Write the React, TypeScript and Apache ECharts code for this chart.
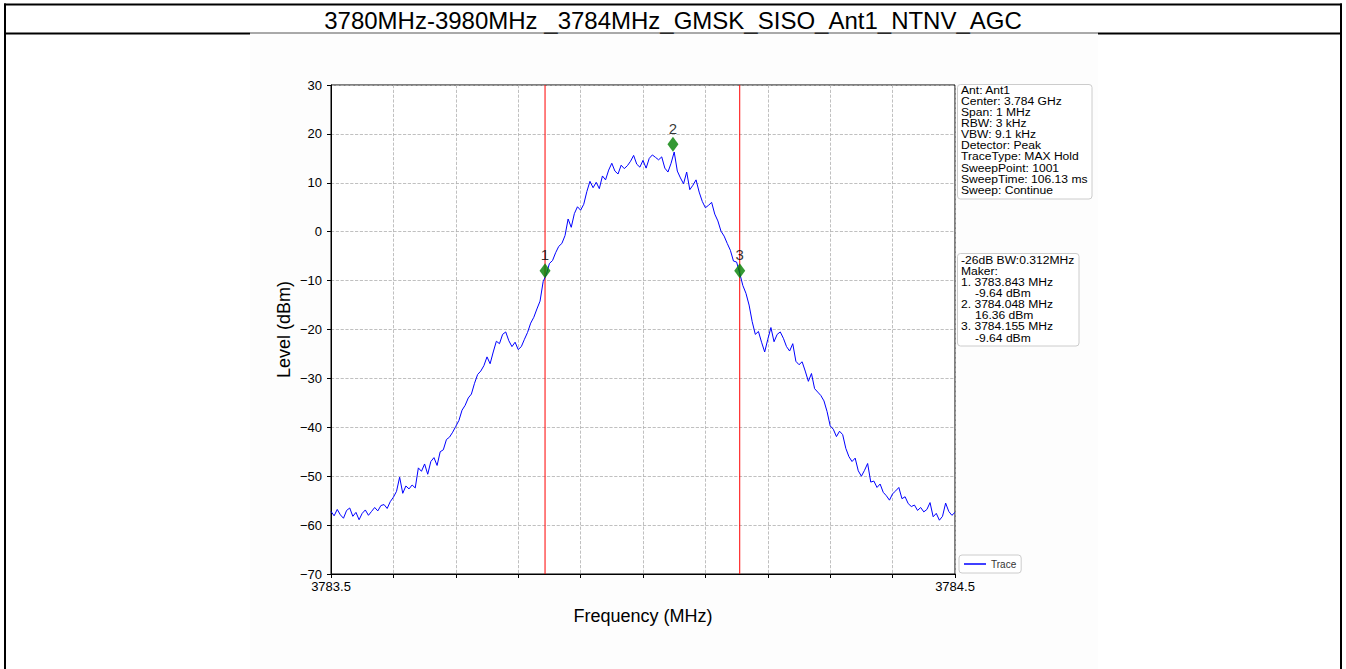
import React, { useEffect, useRef } from "react";
import * as echarts from "echarts";

const TITLE = "3780MHz-3980MHz _3784MHz_GMSK_SISO_Ant1_NTNV_AGC";
const X_NAME = "Frequency (MHz)";
const Y_NAME = "Level (dBm)";
const START_FREQ = 3783.5;
const STOP_FREQ = 3784.5;
const FREQ_STEP = 0.005;

const LEVELS = [
  -57.2, -58.1, -56.8, -57.9, -58.6, -57.0, -56.5, -58.2, -57.4, -58.9,
  -57.6, -56.9, -58.0, -57.2, -56.4, -57.1, -56.0, -55.8, -56.6, -55.2,
  -54.3, -53.1, -50.2, -53.5, -52.0, -52.6, -51.8, -52.4, -48.3, -49.0,
  -47.5, -49.6, -47.0, -46.2, -47.8, -45.0, -44.6, -42.5, -42.0, -41.0,
  -39.8, -38.6, -36.5, -35.5, -34.0, -33.2, -31.0, -29.2, -28.5, -27.4,
  -25.6, -27.0, -24.6, -22.4, -22.9, -21.0, -20.5, -22.3, -23.5, -22.6,
  -24.1, -23.5, -22.0, -20.6, -18.7, -17.5, -15.8, -14.2, -10.2, -8.8,
  -6.5, -5.9, -4.3, -3.0, -2.4, -0.8, 2.6, 0.9, 3.7, 5.1,
  4.4, 5.6, 8.2, 10.3, 9.0, 10.1, 8.8, 11.4, 10.6, 12.6,
  14.0, 12.4, 11.8, 13.6, 12.9, 13.5, 14.4, 15.6, 13.8, 13.2,
  14.6, 13.0, 15.0, 15.7, 15.2, 14.7, 15.3, 13.0, 12.2, 14.0,
  16.3, 12.4, 11.0, 9.8, 12.2, 8.6, 9.5, 10.6, 8.1, 6.2,
  4.9, 5.4, 6.0, 3.6, 2.2, 0.1, -0.9, -2.4, -3.8, -6.0,
  -6.2, -8.5, -11.0, -12.6, -15.0, -18.4, -21.0, -20.4, -22.6, -24.6,
  -22.0, -19.6, -22.5, -21.0, -20.5, -21.8, -23.5, -24.4, -22.9, -26.5,
  -27.2, -26.6, -28.5, -30.6, -29.0, -32.1, -32.8, -33.5, -34.6, -36.8,
  -39.7, -40.4, -41.9, -40.8, -41.5, -44.3, -46.0, -47.0, -46.3, -48.9,
  -50.0, -48.8, -47.4, -51.2, -51.0, -52.3, -51.6, -53.3, -54.0, -54.9,
  -53.6, -53.0, -52.3, -54.6, -54.2, -55.6, -56.2, -55.9, -57.0, -56.4,
  -57.3, -56.8, -55.4, -58.3, -57.6, -59.0, -58.2, -55.5, -57.2, -58.0, -57.4,
];

const X_TICK_LABELS = ["3783.5", "3784.5"];
const Y_MIN = -70;
const Y_MAX = 30;
const Y_STEP = 10;

const MARKER_NAMES = ["1", "2", "3"];
const MARKER_FREQS = [3783.843, 3784.048, 3784.155];
const MARKER_LEVELS = [-8.0, 17.9, -8.0];
const BW_LINE_FREQS = [3783.843, 3784.155];

const INFO_LINES = [
  "Ant: Ant1",
  "Center: 3.784 GHz",
  "Span: 1 MHz",
  "RBW: 3 kHz",
  "VBW: 9.1 kHz",
  "Detector: Peak",
  "TraceType: MAX Hold",
  "SweepPoint: 1001",
  "SweepTime: 106.13 ms",
  "Sweep: Continue",
];

const MARKER_INFO_LINES = [
  "-26dB BW:0.312MHz",
  "Maker:",
  "1. 3783.843 MHz",
  "-9.64 dBm",
  "2. 3784.048 MHz",
  "16.36 dBm",
  "3. 3784.155 MHz",
  "-9.64 dBm",
];

const FONT = "'Liberation Sans', Arial, Helvetica, sans-serif";

export default function App() {
  const ref = useRef<HTMLDivElement>(null);

  useEffect(() => {
    document.body.style.margin = "0";
    const chart = echarts.init(ref.current!, null, { renderer: "svg" });

    const traceData = LEVELS.map((v, i) => [START_FREQ + i * FREQ_STEP, v]);
    const markerData = MARKER_FREQS.map((f, i) => ({
      name: MARKER_NAMES[i],
      value: [f, MARKER_LEVELS[i]],
    }));

    const pitch = 11.1;
    const makeText = (t: string, x: number, y: number) => ({
      type: "text",
      x,
      y,
      z: 20,
      scaleX: 1.1,
      style: {
        text: t,
        font: `11px ${FONT}`,
        fill: "#000",
        textVerticalAlign: "middle",
        lineHeight: pitch,
      },
    });
    const infoTexts = INFO_LINES.map((t, i) => makeText(t, 961, 90 + i * pitch));
    const markerTexts = MARKER_INFO_LINES.map((t, i) =>
      makeText(t, t.endsWith("dBm") ? 975 : 961, 260 + i * pitch)
    );

    const near = (a: number, b: number) => Math.abs(a - b) < 1e-6;

    const bwSeries = BW_LINE_FREQS.map((f, i) => ({
      name: "BW" + (i + 1),
      type: "line",
      data: [
        [f, Y_MIN],
        [f, Y_MAX],
      ],
      showSymbol: false,
      symbol: "none",
      color: "#ff0000",
      lineStyle: { color: "#ff0000", width: 1 },
      emphasis: { disabled: true },
      silent: true,
      z: 2,
    }));

    const option = {
      animation: false,
      backgroundColor: "#ffffff",
      textStyle: { fontFamily: FONT },
      title: {
        text: TITLE,
        left: "center",
        top: 3,
        textStyle: { fontFamily: FONT, fontSize: 24, fontWeight: "normal", color: "#000" },
      },
      grid: {
        left: 331,
        top: 85,
        width: 624,
        height: 489,
        show: true,
        backgroundColor: "#ffffff",
        borderColor: "#000",
        borderWidth: 1,
      },
      legend: {
        data: [{ name: "Trace", icon: "rect" }],
        left: 959,
        top: 555,
        itemWidth: 22,
        itemHeight: 1.5,
        padding: [4, 5],
        borderColor: "#cccccc",
        borderWidth: 1,
        borderRadius: 3,
        backgroundColor: "#fff",
        textStyle: { fontSize: 10, color: "#333", fontFamily: FONT },
      },
      xAxis: {
        type: "value",
        min: START_FREQ,
        max: STOP_FREQ,
        interval: 0.1,
        name: X_NAME,
        nameLocation: "middle",
        nameGap: 33,
        nameTextStyle: { fontSize: 18, color: "#000", fontFamily: FONT },
        axisLine: { show: true, onZero: false, lineStyle: { color: "#000", width: 1 } },
        axisTick: { show: true, length: 4, inside: false, lineStyle: { color: "#000", width: 1 } },
        axisLabel: {
          color: "#000",
          fontSize: 13,
          margin: 6,
          showMinLabel: true,
          showMaxLabel: true,
          hideOverlap: false,
          formatter: (v: number) =>
            near(v, START_FREQ) ? X_TICK_LABELS[0] : near(v, STOP_FREQ) ? X_TICK_LABELS[1] : "",
        },
        splitLine: { show: true, lineStyle: { color: "#b0b0b0", type: "dashed", width: 0.8 } },
      },
      yAxis: {
        type: "value",
        min: Y_MIN,
        max: Y_MAX,
        interval: Y_STEP,
        name: Y_NAME,
        nameLocation: "middle",
        nameRotate: 90,
        nameGap: 38,
        nameTextStyle: { fontSize: 18, color: "#000", fontFamily: FONT },
        axisLine: { show: true, onZero: false, lineStyle: { color: "#000", width: 1 } },
        axisTick: { show: true, length: 4, inside: false, lineStyle: { color: "#000", width: 1 } },
        axisLabel: {
          color: "#000",
          fontSize: 13,
          margin: 9,
          formatter: (v: number) => (v < 0 ? "\u2212" + Math.abs(v) : String(v)),
        },
        splitLine: { show: true, lineStyle: { color: "#b0b0b0", type: "dashed", width: 0.8 } },
      },
      series: [
        {
          name: "Trace",
          type: "line",
          data: traceData,
          showSymbol: false,
          symbol: "none",
          color: "#0000ff",
          lineStyle: { color: "#0000ff", width: 1 },
          emphasis: { disabled: true },
          z: 3,
        },
        ...bwSeries,
        {
          name: "Markers",
          type: "scatter",
          data: markerData,
          symbol: "diamond",
          symbolSize: [11, 15],
          itemStyle: { color: "#008000" },
          z: 5,
          label: {
            show: true,
            position: "top",
            distance: 1,
            formatter: "{b}",
            fontSize: 15,
            color: "#000",
            fontFamily: FONT,
          },
          emphasis: { disabled: true },
        },
      ],
      graphic: [
        {
          type: "rect",
          z: -10,
          shape: { x: 250, y: 34, width: 848, height: 640 },
          style: { fill: "#fdfdfd" },
        },
        { type: "line", z: 30, shape: { x1: 5, y1: 3.5, x2: 5, y2: 669 }, style: { stroke: "#000", lineWidth: 2 } },
        { type: "line", z: 30, shape: { x1: 1341, y1: 3.5, x2: 1341, y2: 669 }, style: { stroke: "#000", lineWidth: 2 } },
        { type: "line", z: 30, shape: { x1: 4, y1: 4.5, x2: 1342, y2: 4.5 }, style: { stroke: "#000", lineWidth: 2 } },
        { type: "line", z: 30, shape: { x1: 4, y1: 33.5, x2: 250, y2: 33.5 }, style: { stroke: "#000", lineWidth: 2 } },
        { type: "line", z: 30, shape: { x1: 1098, y1: 33.5, x2: 1342, y2: 33.5 }, style: { stroke: "#000", lineWidth: 2 } },
        { type: "line", z: 30, shape: { x1: 250, y1: 33, x2: 1098, y2: 33 }, style: { stroke: "#555", lineWidth: 1 } },
        {
          type: "rect",
          z: 19,
          shape: { x: 957.5, y: 84.5, width: 134.5, height: 114.5, r: 3 },
          style: { fill: "#fff", stroke: "#cccccc", lineWidth: 1 },
        },
        ...infoTexts,
        {
          type: "rect",
          z: 19,
          shape: { x: 957.5, y: 253.5, width: 121.5, height: 92.5, r: 3 },
          style: { fill: "#fff", stroke: "#cccccc", lineWidth: 1 },
        },
        ...markerTexts,
      ],
    };

    chart.setOption(option as any);
    return () => chart.dispose();
  }, []);

  return <div ref={ref} style={{ width: 1346, height: 669 }} />;
}
